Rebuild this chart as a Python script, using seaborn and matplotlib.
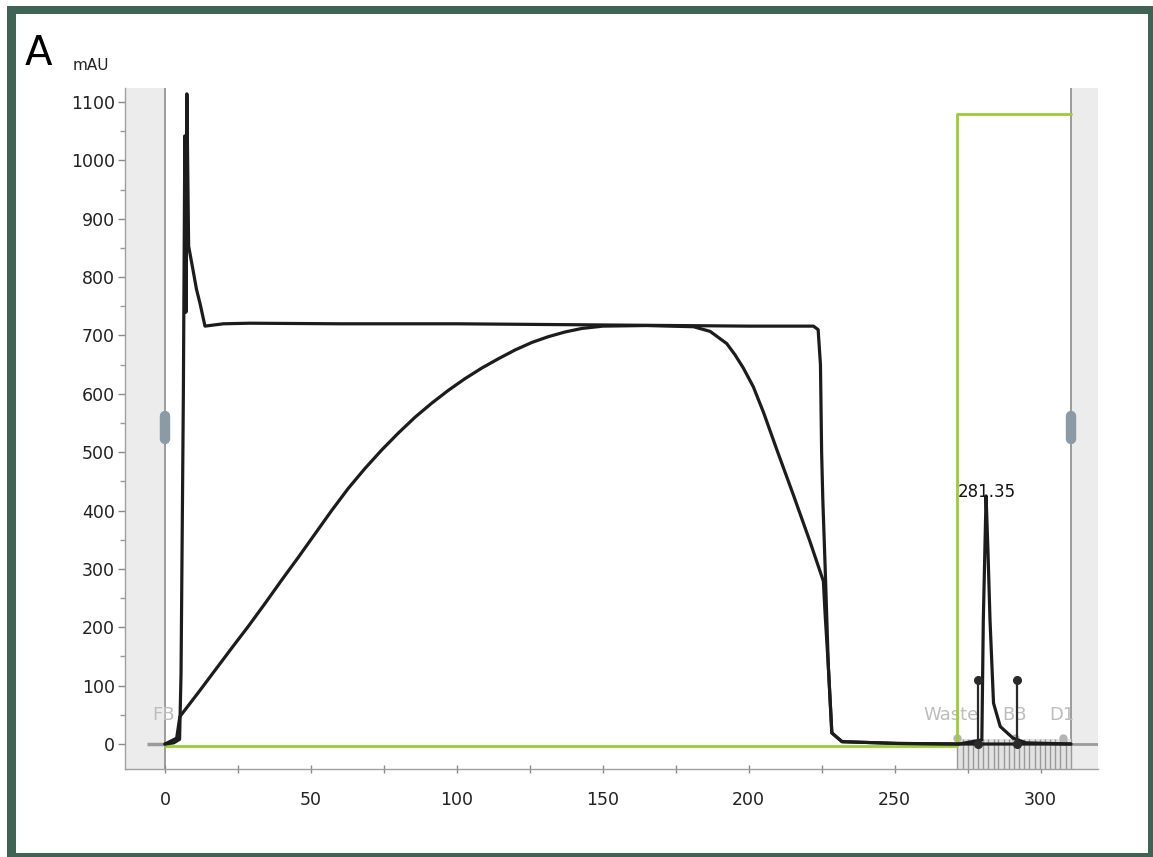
import matplotlib
matplotlib.use("Agg")
import matplotlib.pyplot as plt
from matplotlib.patches import Rectangle
from matplotlib.ticker import MultipleLocator
import pandas as pd
import seaborn as sns

# ---------------- data ----------------
# UV trace 1: sharp front spike, plateau, sharp drop, elution peak
uv1_x = [0, 3, 5.0, 5.5, 6.3, 6.8, 7.2, 7.5, 8.1, 9.5, 10.8, 12.0, 13.7, 20, 29, 60, 100,
         150, 200, 222.2, 223.8, 224.6, 225.0, 225.4, 226.2, 227.3, 228.5, 232, 251, 272,
         279.9, 280.4, 281.35, 282.0, 282.7, 283.9, 286.2, 290.6, 295, 310.4]
uv1_y = [0, 2, 8, 120, 600, 1042, 740, 1114, 853, 815, 779, 755, 716, 720, 721, 720, 720,
         718, 716, 716, 710, 650, 500, 420, 304, 133, 19, 4, 1, 0,
         7, 212, 425, 330, 212, 70, 30, 10, 2, 0]

# UV trace 2: gradual breakthrough curve
uv2_x = [0, 4.0, 5.1, 11.4, 17.1, 22.8, 28.6, 34.3, 40.0, 45.7, 51.4, 57.1, 62.8, 68.5,
         74.3, 80.0, 85.7, 91.4, 97.1, 102.8, 108.5, 114.2, 119.9, 125.7, 131.4, 137.1,
         142.8, 150, 165, 181.1, 186.8, 192.5, 195.3, 198.2, 201.6, 205.1, 209.6, 215.3,
         221.0, 225.6, 226.2, 227.3, 228.5, 232, 251, 272, 310.4]
uv2_y = [0, 10, 47, 88, 126, 164, 202, 241, 281, 320, 360, 400, 438, 472,
         504, 533, 560, 584, 606, 626, 644, 660, 675, 688, 698, 706,
         712, 716, 717, 715, 707, 686, 667, 644, 612, 568, 505, 427,
         347, 279, 222, 133, 19, 4, 1, 0, 0]

# Concentration / gradient step (green)
conc_x = [0, 271.5, 271.5, 310.4]
conc_y = [-3, -3, 1080, 1080]

# Fraction markers and labels
frac_marker_x = [278.7, 291.9]
frac_marker_top = [110, 110]
frac_label_text = ["FB", "Waste", "BB", "D1"]
frac_label_x = [-0.5, 269.4, 291.0, 307.4]
frac_dot_x = [271.5, 291.3, 307.7]
frac_ticks_x = [271.5, 273.3, 275.0, 276.8, 278.6, 280.3, 282.1, 283.9, 285.6, 287.4,
                289.2, 290.9, 292.7, 294.5, 296.2, 298.0, 299.8, 301.5, 303.3, 305.1,
                306.8, 308.6, 310.4]
peak_label = "281.35"
peak_x, peak_y = 281.35, 425

# ---------------- style ----------------
W, H = 1153, 857
sns.set_theme(style="white")
plt.rcParams["font.family"] = ["DejaVu Sans"]

fig = plt.figure(figsize=(W / 100, H / 100), dpi=100)
ax = fig.add_axes([125 / W, 1 - 769 / H, (1098 - 125) / W, (769 - 88) / H])

XMIN, XMAX = -13.7, 319.7
YMIN, YMAX = -42.8, 1124
ax.set_xlim(XMIN, XMAX)
ax.set_ylim(YMIN, YMAX)

# shaded areas outside the run window
ax.axvspan(XMIN, 0, color="#ececec", zorder=0, lw=0)
ax.axvspan(310.4, XMAX, color="#ececec", zorder=0, lw=0)
ax.axvline(0, color="#8c8c8c", lw=1.2, zorder=1)
ax.axvline(310.4, color="#8c8c8c", lw=1.2, zorder=1)

# fraction hatch band
ax.fill_between([271.5, 310.4], -42, 9, color="#e2e2e2", lw=0, zorder=1)
ax.vlines(frac_ticks_x, -42, 9, color="#999999", lw=1.0, zorder=1)

# gray baseline parts outside run window
ax.plot([-6, 0], [0, 0], color="#9a9a9a", lw=2.5, zorder=2, solid_capstyle="butt")
ax.plot([310.4, XMAX], [0, 0], color="#9a9a9a", lw=2.0, zorder=2, solid_capstyle="butt")

# green concentration step
conc_df = pd.DataFrame({"x": conc_x, "y": conc_y})
sns.lineplot(data=conc_df, x="x", y="y", sort=False, estimator=None, ax=ax,
             color="#9acd32", lw=2.0, zorder=3)

# UV traces
uv1_df = pd.DataFrame({"x": uv1_x, "y": uv1_y})
uv2_df = pd.DataFrame({"x": uv2_x, "y": uv2_y})
sns.lineplot(data=uv2_df, x="x", y="y", sort=False, estimator=None, ax=ax,
             color="#1c1c1c", lw=2.3, zorder=4)
sns.lineplot(data=uv1_df, x="x", y="y", sort=False, estimator=None, ax=ax,
             color="#1c1c1c", lw=2.3, zorder=5)

# fraction markers
for fx, ft in zip(frac_marker_x, frac_marker_top):
    ax.plot([fx, fx], [0, ft], color="#2a2a2a", lw=1.6, zorder=6)
    ax.plot([fx, fx], [0, ft], ls="none", marker="o", ms=5.5, color="#2a2a2a", zorder=7)

ax.plot(frac_dot_x, [10] * len(frac_dot_x), ls="none", marker="o", ms=5,
        color="#b5b5b5", zorder=2)

for t, x in zip(frac_label_text, frac_label_x):
    ax.text(x, 50, t, ha="center", va="center", fontsize=13, color="#bdbdbd", zorder=2)

ax.text(peak_x + 0.3, peak_y - 8, peak_label, ha="center", va="bottom",
        fontsize=12, color="#111111", zorder=8)

# slider handles
for hx in [0, 310.4]:
    ax.plot([hx, hx], [522, 562], color="#8b9aa7", lw=7.5, solid_capstyle="round", zorder=6)

# axes styling
for s in ["top", "right"]:
    ax.spines[s].set_visible(False)
for s in ["left", "bottom"]:
    ax.spines[s].set_color("#a0a0a0")
    ax.spines[s].set_linewidth(1.0)

ax.set_xticks([0, 50, 100, 150, 200, 250, 300])
ax.xaxis.set_minor_locator(MultipleLocator(25))
ax.set_yticks(list(range(0, 1101, 100)))
ax.yaxis.set_minor_locator(MultipleLocator(50))
ax.tick_params(axis="x", which="both", direction="inout", length=6, width=1,
               color="#8a8a8a", labelsize=12.5, pad=13, labelcolor="#222222")
ax.tick_params(axis="y", which="major", direction="out", length=5, width=1,
               color="#8a8a8a", labelsize=12.5, pad=2.2, labelcolor="#222222")
ax.tick_params(axis="y", which="minor", direction="out", length=3.5, width=1,
               color="#9a9a9a")
ax.tick_params(bottom=True, left=True, which="both")
ax.set_xlabel("")
ax.set_ylabel("")

# panel letter and unit
fig.text(25 / W, 1 - 65 / H, "A", fontsize=29, color="black", va="baseline", ha="left")
fig.text(73 / W, 1 - 70 / H, "mAU", fontsize=11, color="#222222", va="baseline", ha="left")

# dark green frame
fc = "#3f6455"
def frame(x0, y0, x1, y1):
    fig.add_artist(Rectangle((x0 / W, 1 - y1 / H), (x1 - x0) / W, (y1 - y0) / H,
                             transform=fig.transFigure, color=fc, lw=0, zorder=10))
frame(7, 6, 16, 857)
frame(7, 6, 1153, 14)
frame(1148, 6, 1153, 857)
frame(7, 853, 1153, 857)

fig.savefig("out.png", dpi=100)
